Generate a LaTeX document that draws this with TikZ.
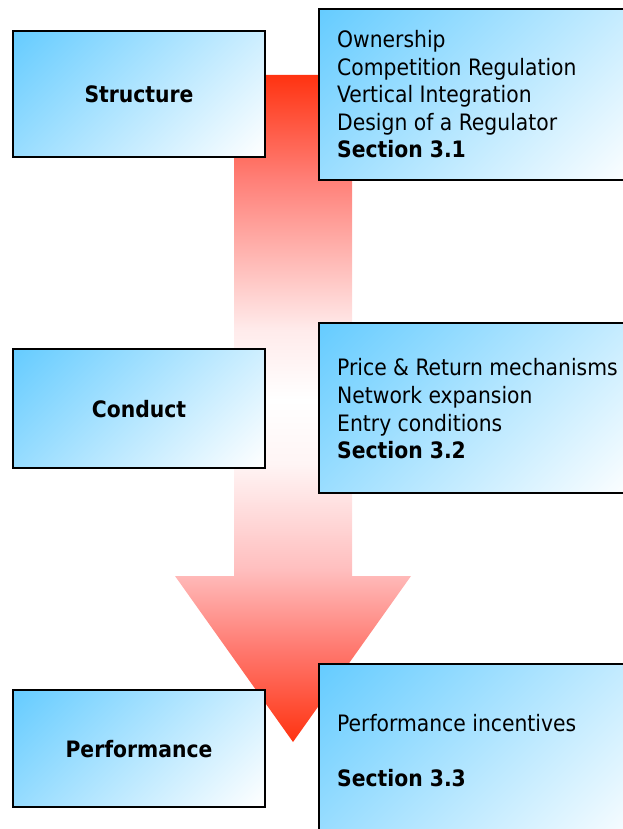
\documentclass[tikz,border=0pt]{standalone}
\usepackage{fontspec}
\setmainfont{DejaVu Sans Condensed}
\definecolor{boxblue}{RGB}{102,204,255}
\definecolor{arrred}{RGB}{255,51,17}
\definecolor{ar1}{RGB}{255,128,120}
\definecolor{ar2}{RGB}{255,235,235}
\definecolor{ar3}{RGB}{255,245,245}
\definecolor{ar4}{RGB}{255,190,190}
\definecolor{ar5}{RGB}{255,120,110}
\pgfdeclarehorizontalshading{boxshade}{100bp}{color(0bp)=(boxblue); color(15bp)=(boxblue); color(85bp)=(white); color(100bp)=(white)}
\pgfdeclareverticalshading{arrowshade}{100bp}{color(0bp)=(arrred); color(25bp)=(arrred); color(31.9bp)=(ar5); color(37.9bp)=(ar4); color(45.9bp)=(ar3); color(50.6bp)=(white); color(55.9bp)=(ar2); color(67.1bp)=(ar1); color(75bp)=(arrred); color(100bp)=(arrred)}
\begin{document}
\begin{tikzpicture}[x=1pt,y=-1pt,
  box/.style={draw=black,line width=2pt,shade,shading=boxshade,shading angle=-45},
  lab/.style={font=\fontsize{22.6}{27}\selectfont\bfseries,inner sep=0pt,anchor=base},
  txt/.style={font=\fontsize{22.6}{27}\selectfont,inner sep=0pt,anchor=base west},
  sec/.style={txt,font=\fontsize{22.6}{27}\selectfont\bfseries}]
\useasboundingbox (0,0) rectangle (623,829);
\clip (0,0) rectangle (623,829);
% big arrow
\shade[shading=arrowshade]
  (234,75) -- (352,75) -- (352,576) -- (411,576) -- (293,742) -- (175,576) -- (234,576) -- cycle;
% left boxes
\path[box] (13,31) rectangle (265,157);
\node[lab] (structure) at (139,103) {Structure};
\path[box] (13,349) rectangle (265,468);
\node[lab] (conduct) at (139,417) {Conduct};
\path[box] (13,690) rectangle (265,807);
\node[lab] (performance) at (139,757) {Performance};
% right boxes
\path[box] (319,9) rectangle (640,180);
\node[txt] (a1) at (337,48) {Ownership};
\node[txt] (a2) at (337,75.5) {Competition Regulation};
\node[txt] (a3) at (337,103) {Vertical Integration};
\node[txt] (a4) at (337,130.5) {Design of a Regulator};
\node[sec] (a5) at (337,158) {Section 3.1};
\path[box] (319,323) rectangle (640,493);
\node[txt] (b1) at (337,375) {Price \& Return mechanisms};
\node[txt] (b2) at (337,403) {Network expansion};
\node[txt] (b3) at (337,431) {Entry conditions};
\node[sec] (b4) at (337,458) {Section 3.2};
\path[box] (319,664) rectangle (640,850);
\node[txt] (c1) at (337,731) {Performance incentives};
\node[sec] (c2) at (337,786) {Section 3.3};
\end{tikzpicture}
\end{document}
